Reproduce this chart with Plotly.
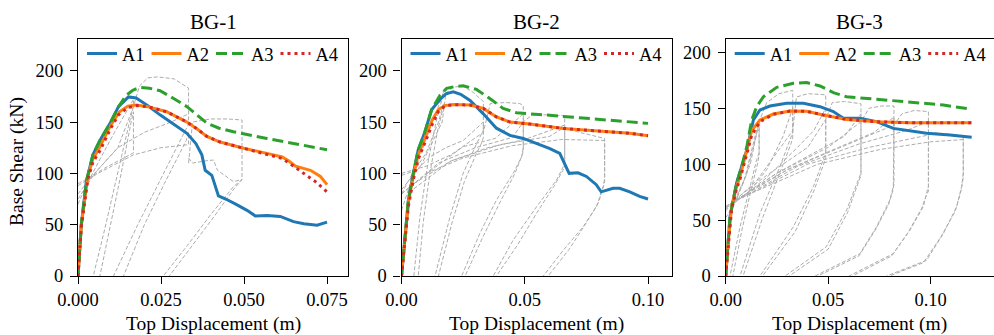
import plotly.graph_objects as go

# ---------------- data ----------------
PANEL_TITLES = ["BG-1", "BG-2", "BG-3"]
SERIES_NAMES = ["A1", "A2", "A3", "A4"]

# BG-1
BG1_A1_X = [0, 0.001, 0.0025, 0.0045, 0.0066, 0.0097, 0.0122, 0.0152, 0.0175, 0.021, 0.0247, 0.0288, 0.0328, 0.0355, 0.0373, 0.0383, 0.0403, 0.0423, 0.0445, 0.0475, 0.0509, 0.0534, 0.057, 0.0609, 0.0649, 0.068, 0.072, 0.075]
BG1_A1_Y = [0, 50, 92, 118, 132, 149, 165, 174.5, 173.5, 166, 157, 148, 139, 129, 118, 103, 98, 78, 75, 70, 64, 58.5, 59, 58, 53, 51, 49.5, 52.5]
BG1_A2_X = [0, 0.001, 0.003, 0.0045, 0.0066, 0.0097, 0.0125, 0.015, 0.0176, 0.021, 0.0267, 0.03, 0.0328, 0.036, 0.0388, 0.0428, 0.0499, 0.0569, 0.0615, 0.0635, 0.0655, 0.07, 0.073, 0.075]
BG1_A2_Y = [0, 50, 98, 114, 126, 146, 160, 165.5, 166.5, 165, 160, 155, 150, 143, 136, 130.5, 124.5, 119.5, 116, 112, 107, 103, 97, 89]
BG1_A3_X = [0, 0.001, 0.0025, 0.0045, 0.0066, 0.0097, 0.0122, 0.0145, 0.0165, 0.0187, 0.0215, 0.0247, 0.0288, 0.0328, 0.0358, 0.0388, 0.0425, 0.0468, 0.0569, 0.067, 0.075]
BG1_A3_Y = [0, 50, 92, 118, 132, 149, 165, 176, 181, 183.8, 183, 180.5, 173, 165, 157, 149, 144, 140.5, 134, 127.6, 123]
BG1_A4_X = [0, 0.001, 0.003, 0.0045, 0.0066, 0.0097, 0.0122, 0.015, 0.0176, 0.021, 0.0267, 0.03, 0.0328, 0.036, 0.0388, 0.0428, 0.0499, 0.0569, 0.0615, 0.064, 0.0675, 0.0715, 0.075]
BG1_A4_Y = [0, 48, 95, 111, 122, 143, 157, 164, 166, 165, 160, 155, 150, 143, 136, 130.5, 124.5, 119, 114.5, 109, 101, 92, 82]

# BG-2
BG2_A1_X = [0, 0.0012, 0.0028, 0.0048, 0.0068, 0.0093, 0.0122, 0.0156, 0.018, 0.021, 0.024, 0.0278, 0.0332, 0.0385, 0.044, 0.0494, 0.0548, 0.0602, 0.0642, 0.0662, 0.068, 0.0716, 0.075, 0.079, 0.081, 0.0858, 0.0885, 0.0926, 0.0966, 0.1]
BG2_A1_Y = [0, 35, 74, 100, 123, 139, 162, 172, 177.5, 179.5, 177, 171, 158, 144, 137, 134, 129, 124, 119.5, 110, 100, 100.5, 97, 89, 82, 85.5, 85.5, 82, 77.5, 75]
BG2_A2_X = [0, 0.0012, 0.0028, 0.0048, 0.0068, 0.0102, 0.0125, 0.0149, 0.0175, 0.021, 0.0278, 0.0332, 0.0385, 0.044, 0.052, 0.0656, 0.079, 0.0926, 0.1]
BG2_A2_Y = [0, 33, 72, 98, 118, 139, 152, 162, 166, 167, 166.5, 163.3, 155, 150, 148, 143.8, 141.2, 139, 136.7]
BG2_A3_X = [0, 0.0012, 0.0028, 0.0048, 0.0068, 0.0093, 0.0122, 0.0156, 0.0183, 0.0215, 0.025, 0.0304, 0.0358, 0.0412, 0.0467, 0.0588, 0.0723, 0.0858, 0.1]
BG2_A3_Y = [0, 35, 74, 100, 123, 139, 162, 176, 182.8, 184.5, 185.4, 181.8, 173, 163.3, 159, 156.8, 154.2, 152, 148.7]
BG2_A4_X = [0, 0.0012, 0.0028, 0.0048, 0.0068, 0.0102, 0.0125, 0.0149, 0.0175, 0.021, 0.0278, 0.0332, 0.0385, 0.044, 0.052, 0.0656, 0.079, 0.0926, 0.1]
BG2_A4_Y = [0, 31, 68, 94, 114, 134, 148, 160, 165.5, 167, 166.5, 163.3, 155, 150, 148, 143.8, 141.2, 139, 136.7]

# BG-3
BG3_A1_X = [0, 0.0021, 0.0053, 0.0078, 0.0103, 0.0135, 0.0167, 0.0216, 0.0297, 0.0379, 0.046, 0.0525, 0.0574, 0.0655, 0.0736, 0.0818, 0.0899, 0.098, 0.1094, 0.12]
BG3_A1_Y = [0, 53, 83, 98, 112.6, 139.5, 148.4, 152, 154.4, 154.4, 151.4, 147, 141, 141, 138, 132, 129.6, 127.6, 126, 124]
BG3_A2_X = [0, 0.0013, 0.0029, 0.0053, 0.007, 0.0103, 0.0127, 0.0167, 0.0232, 0.0314, 0.0395, 0.0476, 0.0541, 0.059, 0.0736, 0.0899, 0.12]
BG3_A2_Y = [0, 32, 62, 80, 89, 112.6, 130, 139.5, 144.8, 147.5, 147.2, 144, 141.9, 140, 138, 137, 137]
BG3_A3_X = [0, 0.0021, 0.0053, 0.0078, 0.0103, 0.0127, 0.0151, 0.0184, 0.0249, 0.033, 0.0395, 0.046, 0.0525, 0.059, 0.0736, 0.0899, 0.1062, 0.12]
BG3_A3_Y = [0, 53, 83, 98, 115.6, 139.5, 151.4, 160.3, 168.7, 172.3, 172.9, 169.9, 164, 160.3, 158, 155.3, 152.9, 149]
BG3_A4_X = [0, 0.0013, 0.0029, 0.0053, 0.007, 0.0103, 0.0127, 0.0167, 0.0232, 0.0314, 0.0395, 0.0476, 0.0541, 0.059, 0.0736, 0.0899, 0.12]
BG3_A4_Y = [0, 30, 60, 78, 87, 109, 126, 138, 144.5, 147.5, 147.2, 144, 141.9, 140, 138, 137, 137]

# grey cyclic test curves (one sub-list per loop branch)
BG1_GRAY_X = [
    [0, 0.002, 0.006, 0.011, 0.0167, 0.0167, 0.0155, 0.012, 0.008, 0.0046],
    [0, 0.003, 0.008, 0.0167, 0.0167, 0.016, 0.013, 0.0095, 0.0066],
    [0, 0.005, 0.012, 0.0167, 0.0185, 0.021, 0.024, 0.029, 0.0333, 0.0333, 0.025, 0.018, 0.0107],
    [0, 0.006, 0.0167, 0.025, 0.0333, 0.0333, 0.0326, 0.026, 0.02, 0.0137],
    [0, 0.005, 0.012, 0.02, 0.028, 0.0333],
    [0.0333, 0.0345, 0.04, 0.045, 0.0494, 0.0494, 0.0468, 0.04, 0.033, 0.0257],
    [0.0333, 0.0345, 0.038, 0.0408, 0.042, 0.0468, 0.0494, 0.047, 0.041, 0.034, 0.0275],
]
BG1_GRAY_Y = [
    [70, 85, 110, 140, 172, 165, 150, 100, 45, 0],
    [90, 95, 105, 120, 160, 150, 100, 45, 0],
    [80, 100, 125, 165, 185, 193, 194, 192, 183, 148, 95, 50, 0],
    [88, 100, 118, 125, 128, 140, 132, 90, 50, 0],
    [75, 100, 125, 140, 150, 158],
    [110, 150, 153, 153, 152, 94, 87, 60, 30, 0],
    [115, 110, 112, 113, 103, 92, 94, 85, 58, 28, 0],
]
BG2_GRAY_X = [
    [0, 0.005, 0.011, 0.0165, 0.017, 0.017, 0.0163, 0.0142, 0.0109, 0.0075, 0.005],
    [0, 0.004, 0.01, 0.015, 0.017, 0.017, 0.0165, 0.0145, 0.0115, 0.0088, 0.0068],
    [0, 0.008, 0.0165, 0.018, 0.021, 0.025, 0.029, 0.0332, 0.0332, 0.0325, 0.0305, 0.025, 0.0197, 0.0136],
    [0, 0.006, 0.0115, 0.018, 0.025, 0.0332, 0.0332, 0.0326, 0.0305, 0.0255, 0.0205, 0.015],
    [0, 0.01, 0.02, 0.0332, 0.036, 0.042, 0.048, 0.0494, 0.0494, 0.0487, 0.0453, 0.0385, 0.0318, 0.0244],
    [0, 0.012, 0.025, 0.038, 0.0494, 0.0494, 0.049, 0.046, 0.04, 0.033, 0.0258],
    [0.0, 0.015, 0.03, 0.045, 0.0494, 0.053, 0.06, 0.0662, 0.0662, 0.0656, 0.0629, 0.0548, 0.0453, 0.0372],
    [0.005, 0.02, 0.035, 0.05, 0.0662, 0.0662, 0.0655, 0.062, 0.055, 0.047, 0.0385],
    [0.005, 0.02, 0.04, 0.06, 0.0662, 0.072, 0.0824, 0.0824, 0.0818, 0.0791, 0.0737, 0.0656, 0.0575],
    [0.01, 0.025, 0.045, 0.065, 0.0824, 0.0824, 0.082, 0.08, 0.075, 0.068, 0.0595],
]
BG2_GRAY_Y = [
    [64, 100, 140, 175, 181, 175, 171, 152, 113, 58, 0],
    [80, 98, 120, 150, 168, 165, 160, 140, 100, 52, 0],
    [84, 108, 150, 178, 184, 185, 179, 170, 142, 139, 129, 100, 58, 0],
    [98, 103, 116, 125, 132, 150, 135, 130, 120, 92, 52, 0],
    [100, 107, 118, 140, 168, 169, 168, 166, 125, 116, 100, 74, 41.6, 0],
    [80, 103, 126, 134, 158, 122, 118, 100, 72, 38, 0],
    [80, 110, 125, 135, 150, 157, 157, 156, 110, 106.5, 93.5, 67.5, 35, 0],
    [85, 112, 125, 133, 147, 106, 103, 88, 62, 30, 0],
    [90, 112, 128, 136, 145, 140, 134, 95, 87, 67.5, 48, 25, 0],
    [100, 115, 127, 133, 132, 92, 88, 72, 52, 26, 0],
]
BG3_GRAY_X = [
    [0, 0.004, 0.009, 0.013, 0.0163, 0.0163, 0.0151, 0.0119, 0.007, 0.0021],
    [0, 0.005, 0.01, 0.014, 0.0163, 0.0163, 0.0155, 0.0125, 0.008, 0.0035],
    [0, 0.006, 0.012, 0.0163, 0.02, 0.026, 0.0327, 0.0327, 0.0314, 0.0265, 0.0167, 0.007],
    [0, 0.01, 0.02, 0.028, 0.0327, 0.0327, 0.0318, 0.027, 0.018, 0.0085],
    [0, 0.015, 0.0327, 0.0345, 0.04, 0.0488, 0.0488, 0.0476, 0.0428, 0.033, 0.0167],
    [0.002, 0.02, 0.035, 0.043, 0.0488, 0.0488, 0.0478, 0.043, 0.034, 0.018],
    [0, 0.02, 0.04, 0.0488, 0.052, 0.058, 0.066, 0.066, 0.0647, 0.059, 0.049, 0.029],
    [0.003, 0.025, 0.045, 0.058, 0.066, 0.066, 0.0648, 0.0595, 0.05, 0.031],
    [0.003, 0.025, 0.05, 0.066, 0.07, 0.076, 0.0821, 0.0821, 0.0818, 0.0801, 0.0736, 0.0655, 0.0436],
    [0.005, 0.03, 0.055, 0.072, 0.0821, 0.0821, 0.0815, 0.0795, 0.073, 0.065, 0.045],
    [0.005, 0.03, 0.06, 0.0821, 0.086, 0.092, 0.0989, 0.0989, 0.098, 0.0964, 0.0899, 0.0818, 0.0602],
    [0.008, 0.035, 0.065, 0.088, 0.0989, 0.0989, 0.0975, 0.0955, 0.089, 0.081, 0.0618],
    [0.008, 0.04, 0.07, 0.0989, 0.102, 0.108, 0.1159, 0.1159, 0.1151, 0.1127, 0.1062, 0.098, 0.0785],
    [0.01, 0.045, 0.075, 0.1, 0.1159, 0.1159, 0.1148, 0.112, 0.105, 0.0965, 0.08],
]
BG3_GRAY_Y = [
    [52, 64, 85, 115, 140, 110, 104, 80, 44, 0],
    [60, 70, 90, 118, 136, 108, 100, 78, 42, 0],
    [58, 72, 100, 138, 155, 163, 166, 128, 122, 98, 56, 0],
    [62, 72, 95, 125, 150, 124, 118, 95, 52, 0],
    [60, 85, 130, 160, 163, 162, 110, 104, 80, 44, 0],
    [62, 88, 115, 130, 150, 106, 100, 76, 40, 0],
    [62, 90, 115, 140, 155, 156, 154, 92, 86, 59, 26, 0],
    [65, 92, 112, 125, 145, 90, 84, 57, 24, 0],
    [65, 92, 115, 138, 150, 152, 152, 86, 80, 68, 44, 20, 0],
    [68, 95, 115, 128, 142, 82, 76, 64, 41, 18, 0],
    [68, 95, 118, 135, 145, 148, 147, 80, 74, 62, 41, 20, 0],
    [70, 98, 118, 130, 138, 76, 70, 60, 39, 18, 0],
    [70, 100, 115, 126, 128, 127, 125, 92, 80, 62, 38, 14, 0],
    [72, 100, 113, 120, 122, 88, 76, 58, 35, 12, 0],
]

X_TICKS = [[0, 0.025, 0.05, 0.075], [0, 0.05, 0.10], [0, 0.05, 0.10]]
X_TICK_TEXT = [["0.000", "0.025", "0.050", "0.075"], ["0.00", "0.05", "0.10"], ["0.00", "0.05", "0.10"]]
Y_TICKS = [0, 50, 100, 150, 200]

# ---------------- style ----------------
W, H = 994, 335
FONT = "Liberation Serif"
COLORS = ["#1f77b4", "#ff7f0e", "#2ca02c", "#d62728"]
DASHES = ["solid", "solid", "11px,5px", "3px,4px"]
GRAY = "rgb(172,172,172)"

# pixel layout
PX_LEFT = [78, 401.5, 725.7]
PX_RIGHT = [348.3, 671.7, 994]
X_RANGES = [[0, 0.0814], [0, 0.1096], [0, 0.1309]]
Y_RANGES = [[0, 230.9], [0, 230.9], [0, 211.9]]
PX_TOP, PX_BOT = 39, 276

panels = [
    ([BG1_A1_X, BG1_A2_X, BG1_A3_X, BG1_A4_X], [BG1_A1_Y, BG1_A2_Y, BG1_A3_Y, BG1_A4_Y], BG1_GRAY_X, BG1_GRAY_Y),
    ([BG2_A1_X, BG2_A2_X, BG2_A3_X, BG2_A4_X], [BG2_A1_Y, BG2_A2_Y, BG2_A3_Y, BG2_A4_Y], BG2_GRAY_X, BG2_GRAY_Y),
    ([BG3_A1_X, BG3_A2_X, BG3_A3_X, BG3_A4_X], [BG3_A1_Y, BG3_A2_Y, BG3_A3_Y, BG3_A4_Y], BG3_GRAY_X, BG3_GRAY_Y),
]

fig = go.Figure()
legend_names = ["legend", "legend2", "legend3"]

for p, (xs, ys, gx, gy) in enumerate(panels):
    xa = "x" if p == 0 else f"x{p+1}"
    ya = "y" if p == 0 else f"y{p+1}"
    for cx, cy in zip(gx, gy):
        fig.add_trace(go.Scatter(x=cx, y=cy, mode="lines", xaxis=xa, yaxis=ya,
                                 line=dict(color=GRAY, width=1, dash="4px,2px"),
                                 showlegend=False, hoverinfo="skip"))
    for s in range(4):
        fig.add_trace(go.Scatter(x=xs[s], y=ys[s], mode="lines", name=SERIES_NAMES[s],
                                 xaxis=xa, yaxis=ya, legend=legend_names[p],
                                 line=dict(color=COLORS[s], width=3, dash=DASHES[s])))

layout = dict(width=W, height=H, margin=dict(l=0, r=0, t=0, b=0),
              paper_bgcolor="white", plot_bgcolor="white",
              font=dict(family=FONT, size=18, color="black"), annotations=[])

axis_common = dict(showline=True, linecolor="black", linewidth=1.3, mirror=True,
                   ticks="outside", ticklen=7, tickwidth=1.3, tickcolor="black",
                   showgrid=False, zeroline=False, automargin=False,
                   tickfont=dict(family=FONT, size=18.5, color="black"))

ydom = [(H - PX_BOT) / H, (H - PX_TOP) / H]
for p in range(3):
    xk = "xaxis" if p == 0 else f"xaxis{p+1}"
    yk = "yaxis" if p == 0 else f"yaxis{p+1}"
    xdom = [PX_LEFT[p] / W, min(PX_RIGHT[p] / W, 1.0)]
    layout[xk] = dict(axis_common, domain=xdom, range=X_RANGES[p], tickvals=X_TICKS[p],
                      ticktext=X_TICK_TEXT[p], anchor="y" if p == 0 else f"y{p+1}")
    layout[yk] = dict(axis_common, domain=ydom, range=Y_RANGES[p], tickvals=Y_TICKS,
                      ticklabelstandoff=3, anchor="x" if p == 0 else f"x{p+1}")
    cx = (PX_LEFT[p] + min(PX_RIGHT[p], PX_LEFT[p] + 270.3)) / 2 / W
    layout["annotations"].append(dict(text=PANEL_TITLES[p], x=cx, y=(H - 21.5) / H,
                                      xref="paper", yref="paper", showarrow=False,
                                      xanchor="center", yanchor="middle",
                                      font=dict(family=FONT, size=21, color="black")))
    layout["annotations"].append(dict(text="Top Displacement (m)", x=cx, y=(H - 323.5) / H,
                                      xref="paper", yref="paper", showarrow=False,
                                      xanchor="center", yanchor="middle",
                                      font=dict(family=FONT, size=19.5, color="black")))
    layout[legend_names[p]] = dict(orientation="h", x=(PX_LEFT[p] + 4) / W, y=(H - PX_TOP + 4) / H,
                                   xanchor="left", yanchor="top", bgcolor="rgba(0,0,0,0)",
                                   borderwidth=0, entrywidth=19.5, itemwidth=30,
                                   font=dict(family=FONT, size=18.5, color="black"))

layout["annotations"].append(dict(text="Base Shear (kN)", x=16.5 / W, y=(H - 161.5) / H,
                                  xref="paper", yref="paper", showarrow=False, textangle=-90,
                                  xanchor="center", yanchor="middle",
                                  font=dict(family=FONT, size=19.5, color="black")))

fig.update_layout(**layout)
fig.write_html("out.html", config={"displayModeBar": False},
               post_script="document.body.style.margin='0px';document.body.style.overflow='hidden';")
